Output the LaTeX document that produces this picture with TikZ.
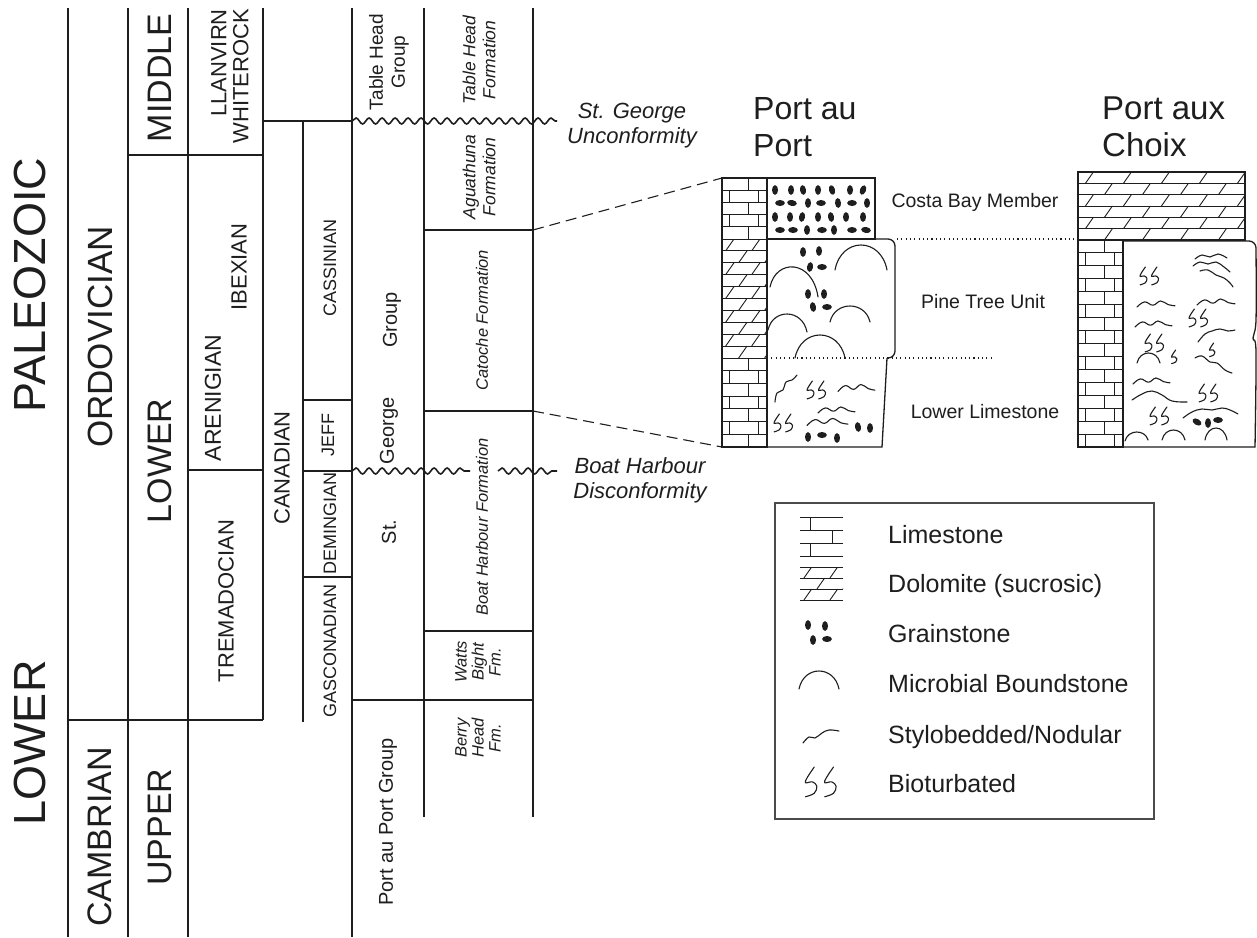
\documentclass[tikz,border=0pt]{standalone}
\usepackage{fontspec}
\setmainfont{Liberation Sans}
\usetikzlibrary{decorations.pathmorphing}
\definecolor{ink}{RGB}{30,30,30}
\newcommand\fsz[2]{\fontsize{#1}{#2}\selectfont}
\tikzset{
  ln/.style={draw=ink, line width=1.3pt},
  pat/.style={draw=ink, line width=0.9pt},
  sym/.style={draw=ink, line width=1.1pt, line cap=round, line join=round},
  wavy/.style={draw=ink, line width=1.6pt, decorate, decoration={snake, amplitude=3pt, segment length=13pt}},
  con/.style={draw=ink, line width=1.1pt, dash pattern=on 11pt off 6pt},
  dotl/.style={draw=ink, line width=1.1pt, dash pattern=on 1.1pt off 3.2pt},
  lbl/.style={text=ink, inner sep=0pt},
  vlbl/.style={lbl, rotate=90},
}
% limestone brick rows: x1 y1 x2 y2 nrows
\newcommand\limestone[5]{%
  \pgfmathsetmacro\lrh{(#4-#2)/#5}%
  \pgfmathsetmacro\lww{#3-#1}%
  \foreach \i in {1,...,#5}{%
    \pgfmathsetmacro\lya{#2+(\i-1)*\lrh}%
    \pgfmathsetmacro\lyb{#2+\i*\lrh}%
    \draw[pat] (#1,\lyb) -- (#3,\lyb);
    \ifodd\i
      \draw[pat] ({#1+0.58*\lww},\lya) -- ({#1+0.58*\lww},\lyb);
    \else
      \draw[pat] ({#1+0.16*\lww},\lya) -- ({#1+0.16*\lww},\lyb);
      \draw[pat] ({#1+0.80*\lww},\lya) -- ({#1+0.80*\lww},\lyb);
    \fi
  }%
}
% dolomite rows: x1 y1 x2 y2 nrows spacing
\newcommand\dolomite[6]{%
  \begin{scope}
  \clip (#1,#2) rectangle (#3,#4);
  \pgfmathsetmacro\drh{(#4-#2)/#5}%
  \pgfmathtruncatemacro\dnk{(#3-#1)/#6+1}%
  \draw[pat] (#1,#2) -- (#3,#2);
  \foreach \i in {1,...,#5}{%
    \pgfmathsetmacro\dya{#2+(\i-1)*\drh}%
    \pgfmathsetmacro\dyb{#2+\i*\drh}%
    \pgfmathsetmacro\dofs{mod(\i,2)==1 ? 0.3*#6 : 0.8*#6}%
    \draw[pat] (#1,\dyb) -- (#3,\dyb);
    \foreach \k in {0,...,\dnk}{%
      \draw[pat] ({#1+\dofs+\k*#6-0.35*\drh},\dyb) -- ({#1+\dofs+\k*#6+0.35*\drh},\dya);
    }%
  }%
  \end{scope}%
}
\newcommand\grain[3]{\fill[ink,shift={(#1,#2)},rotate=#3] (0,0) ellipse [x radius=3, y radius=4.9];}
\newcommand\dome[5]{\draw[sym] (#1,#2) .. controls ({#1+0.12*(#3-#1)},{(4*#5-(#2+#4)/2)/3}) and ({#3-0.12*(#3-#1)},{(4*#5-(#2+#4)/2)/3}) .. (#3,#4);}
\newcommand\wig[4]{\draw[sym] plot[smooth,tension=0.7] coordinates {({#1},{#2+#4}) ({#1+0.2*#3},{#2-0.7*#4}) ({#1+0.42*#3},{#2+0.4*#4}) ({#1+0.62*#3},{#2-#4}) ({#1+0.82*#3},{#2+0.2*#4}) ({#1+#3},{#2+0.6*#4})};}
\newcommand\bioglyph[3]{\draw[sym,shift={(#1,#2)},scale=#3] plot[smooth,tension=.6] coordinates {(7,0)(3,6)(2,9)(6,8.5)(8.5,11)(7,15)(2,17)};}
\newcommand\bio[3]{\bioglyph{#1}{#2}{#3}\bioglyph{#1+11*#3}{#2}{#3}}
\begin{document}
\begin{tikzpicture}[x=1pt,y=-1pt]
\useasboundingbox (0,0) rectangle (1257,937);
\fill[white] (0,0) rectangle (1257,937);

% ---------- stratigraphic table ----------
\draw[ln] (68,8) -- (68,937);
\draw[ln] (128,8) -- (128,937);
\draw[ln] (188,8) -- (188,937);
\draw[ln] (263,8) -- (263,720);
\draw[ln] (303,121) -- (303,722);
\draw[ln] (352,8) -- (352,937);
\draw[ln] (424,8) -- (424,817);
\draw[ln] (533,8) -- (533,817);
\draw[ln] (68,720) -- (263,720);
\draw[ln] (128,155) -- (263,155);
\draw[ln] (188,470) -- (263,470);
\draw[ln] (263,121) -- (352,121);
\draw[ln] (303,400) -- (352,400);
\draw[ln] (303,471) -- (352,471);
\draw[ln] (303,577) -- (352,577);
\draw[ln] (424,230) -- (533,230);
\draw[ln] (424,411) -- (533,411);
\draw[ln] (424,631) -- (533,631);
\draw[ln] (352,700) -- (533,700);
\draw[wavy] (352,121) -- (557,121);
\draw[wavy] (352,471) -- (470,471);
\draw[wavy] (498,471) -- (557,471);

\node[vlbl, font=\fsz{45}{50}] (paleo) at (30,285) {PALEOZOIC};
\node[vlbl, font=\fsz{45}{50}] (lowera) at (30,743) {LOWER};
\node[vlbl, font=\fsz{35}{40}] (ordo) at (100,337) {ORDOVICIAN};
\node[vlbl, font=\fsz{34}{40}] (camb) at (100,837) {CAMBRIAN};
\node[vlbl, font=\fsz{34}{40}] (middle) at (160,78) {MIDDLE};
\node[vlbl, font=\fsz{34}{40}] (lowerb) at (160,461) {LOWER};
\node[vlbl, font=\fsz{34}{40}] (upper) at (160,827) {UPPER};
\node[vlbl, font=\fsz{22}{22}, align=right, anchor=east] (llan) at (230,9) {LLANVIRN\\WHITEROCK};
\node[vlbl, font=\fsz{23}{26}] (aren) at (213,398) {ARENIGIAN};
\node[vlbl, font=\fsz{22}{26}] (ibex) at (239,267) {IBEXIAN};
\node[vlbl, font=\fsz{22}{26}] (trem) at (226,601) {TREMADOCIAN};
\node[vlbl, font=\fsz{22}{26}] (canad) at (282,468) {CANADIAN};
\node[vlbl, font=\fsz{18}{22}] (cass) at (330,268) {CASSINIAN};
\node[vlbl, font=\fsz{18}{22}] (jeff) at (328,435) {JEFF};
\node[vlbl, font=\fsz{18}{22}] (deming) at (330,523) {DEMINGIAN};
\node[vlbl, font=\fsz{18}{22}] (gascon) at (330,651) {GASCONADIAN};
\node[vlbl, font=\fsz{19}{22}, align=center] (thg) at (389,62) {Table Head\\Group};
\node[vlbl, font=\fsz{20}{24}] (group) at (392,320) {Group};
\node[vlbl, font=\fsz{20}{24}] (george) at (389,431) {George};
\node[vlbl, font=\fsz{20}{24}] (st) at (389,532) {St.};
\node[vlbl, font=\fsz{20}{24}] (papg) at (388,822) {Port au Port Group};
\node[vlbl, font=\fsz{17.5}{20}\itshape, align=center] (thf) at (479,60) {Table Head\\Formation};
\node[vlbl, font=\fsz{17.5}{20}\itshape, align=center] (agu) at (479,177) {Aguathuna\\Formation};
\node[vlbl, font=\fsz{16.5}{19}\itshape] (cat) at (482,320) {Catoche Formation};
\node[vlbl, font=\fsz{16.5}{19}\itshape] (bh) at (482,527) {Boat Harbour Formation};
\node[vlbl, font=\fsz{16.5}{17}\itshape, align=center] (watts) at (478,662) {Watts\\Bight\\Fm.};
\node[vlbl, font=\fsz{16.5}{17}\itshape, align=center] (berry) at (478,738) {Berry\\Head\\Fm.};

\node[lbl, font=\fsz{22}{25}\itshape, align=center] (sgu) at (632,126) {St. George\\Unconformity};
\node[lbl, font=\fsz{22}{25}\itshape, align=center] (bhd) at (640,480) {Boat Harbour\\Disconformity};

% ---------- Port au Port column ----------
\node[lbl, font=\fsz{32}{37}, align=left, anchor=north west] (pap) at (753,97) {Port au\\Port};
\limestone{722}{178}{767}{239}{5}
\dolomite{722}{239}{767}{358}{10}{26}
\limestone{722}{358}{767}{447}{7}
\draw[ln] (722,178) rectangle (767,447);
\draw[ln] (767,178) rectangle (875,239);
\draw[ln, rounded corners=7pt] (875,239) -- (895,239) -- (895,358) -- (887,358);
\draw[ln] (887,358) -- (882,447) -- (767,447);
\coordinate (pptop) at (722,178);
\coordinate (ppbot) at (722,447);
\coordinate (agubase) at (533,230);
\coordinate (catbase) at (533,411);
\draw[con] (agubase) -- (pptop);
\draw[con] (catbase) -- (ppbot);

% grainstone
\foreach \x/\a in {775/0,791/0,803/10,818/0,832/15,850/0,863/-20} {\grain{\x}{190}{\a}}
\foreach \x/\a in {780/90,792/80,808/0,821/90,838/5,852/90,867/0} {\grain{\x}{203}{\a}}
\foreach \x/\a in {775/0,790/0,802/-10,818/0,831/10,846/0,863/0} {\grain{\x}{217}{\a}}
\foreach \x/\a in {780/90,793/90,807/0,822/90,834/0,852/90,866/80} {\grain{\x}{230}{\a}}
% pine tree unit
\grain{803}{252}{0}\grain{819}{251}{0}\grain{810}{267}{-10}\grain{822}{267}{90}
\grain{808}{294}{0}\grain{824}{294}{0}\grain{813}{307}{10}\grain{827}{307}{90}
\dome{835}{270}{887}{270}{245}
\dome{770}{287}{818}{297}{267}
\dome{768}{330}{807}{332}{314}
\dome{830}{322}{870}{322}{306}
\dome{795}{358}{845}{358}{335}
% lower limestone
\draw[sym] plot[smooth,tension=.7] coordinates {(775,402)(777,393)(783,390)(786,382)(792,380)(797,375)};
\bio{805}{381}{1.05}
\wig{838}{388}{37}{3.5}
\bio{772}{414}{1.05}
\wig{818}{410}{37}{3}
\wig{807}{422}{41}{3.5}
\grain{858}{427}{10}\grain{870}{428}{0}\grain{808}{437}{0}\grain{822}{435}{90}\grain{837}{438}{0}

% dotted correlation lines
\coordinate (ct1) at (897,239);
\coordinate (ct2) at (1078,239);
\coordinate (pt1) at (767,358);
\coordinate (pt2) at (993,358);
\draw[dotl] (ct1) -- (ct2);
\draw[dotl] (pt1) -- (pt2);

\node[lbl, font=\fsz{19.5}{22}] (costa) at (975,202) {Costa Bay Member};
\node[lbl, font=\fsz{19.5}{22}] (pine) at (983,302) {Pine Tree Unit};
\node[lbl, font=\fsz{19.5}{22}] (lowls) at (985,412) {Lower Limestone};

% ---------- Port aux Choix column ----------
\node[lbl, font=\fsz{33}{37}, align=left, anchor=north west] (pac) at (1102,97) {Port aux\\Choix};
\dolomite{1078}{172}{1245}{240}{6}{38}
\draw[ln] (1078,172) rectangle (1245,240);
\limestone{1078}{240}{1123}{447}{16}
\draw[ln] (1078,240) rectangle (1123,447);
\draw[ln] (1123,241) -- (1249,241) to[out=0,in=90] (1256,248)
   plot[smooth,tension=.6] coordinates {(1256,248)(1256,320)(1253,338)(1256,352)(1255,447)} -- (1123,447);
\bio{1138}{267}{1.05}
\draw[sym] plot[smooth,tension=.7] coordinates {(1195,259)(1202,255)(1210,257)(1218,254)(1227,258)};
\draw[sym] plot[smooth,tension=.7] coordinates {(1193,266)(1200,262)(1208,264)(1216,262)(1224,267)(1230,272)};
\draw[sym] plot[smooth,tension=.7] coordinates {(1200,271)(1208,270)(1216,275)(1224,278)(1230,283)(1233,287)};
\wig{1137}{304}{38}{3}
\wig{1197}{302}{38}{3}
\bio{1187}{309}{1.05}
\wig{1135}{324}{37}{3}
\draw[sym] plot[smooth,tension=.7] coordinates {(1198,342)(1205,334)(1212,331)(1220,329)(1228,331)(1235,330)};
\bio{1143}{334}{1.05}
\dome{1137}{363}{1160}{363}{353}
\bioglyph{1170}{350}{0.8}
\bioglyph{1208}{343}{0.8}
\draw[sym] plot[smooth,tension=.7] coordinates {(1195,358)(1202,356)(1210,362)(1217,363)(1225,370)(1232,373)};
\wig{1133}{381}{37}{3}
\draw[sym] plot[smooth,tension=.7] coordinates {(1132,400)(1142,394)(1152,391)(1162,395)(1172,401)(1187,402)};
\bio{1197}{384}{1.05}
\bio{1148}{407}{1.05}
\draw[sym] plot[smooth,tension=.7] coordinates {(1183,418)(1192,412)(1202,409)(1212,410)(1222,408)(1230,410)(1238,414)};
\grain{1197}{422}{60}\grain{1208}{423}{0}\grain{1218}{420}{90}
\dome{1125}{441}{1148}{440}{432}
\dome{1162}{440}{1185}{440}{430}
\dome{1205}{440}{1227}{440}{428}

% ---------- legend ----------
\draw[ln, draw=ink!80] (775,503) rectangle (1154,819);
\draw[pat] (800,517)--(843,517) (800,530)--(843,530) (800,543)--(843,543) (800,556)--(843,556)
  (810,517)--(810,530) (832,530)--(832,543) (810,543)--(810,556);
\dolomite{800}{567}{843}{600}{3}{26}
\grain{808}{625}{0}\grain{825}{626}{0}\grain{813}{640}{0}\grain{827}{639}{90}
\dome{799}{689}{839}{689}{671}
\draw[sym] plot[smooth,tension=.7] coordinates {(803,743)(809,737)(815,738)(822,733)(829,730)(839,731)};
\bio{802}{767}{1.75}
\node[lbl, font=\fsz{25}{28}, anchor=base west] (lg1) at (888,543) {Limestone};
\node[lbl, font=\fsz{25}{28}, anchor=base west] (lg2) at (888,592) {Dolomite (sucrosic)};
\node[lbl, font=\fsz{25}{28}, anchor=base west] (lg3) at (888,642) {Grainstone};
\node[lbl, font=\fsz{25}{28}, anchor=base west] (lg4) at (888,692) {Microbial Boundstone};
\node[lbl, font=\fsz{25}{28}, anchor=base west] (lg5) at (888,743) {Stylobedded/Nodular};
\node[lbl, font=\fsz{25}{28}, anchor=base west] (lg6) at (888,792) {Bioturbated};
\end{tikzpicture}
\end{document}
